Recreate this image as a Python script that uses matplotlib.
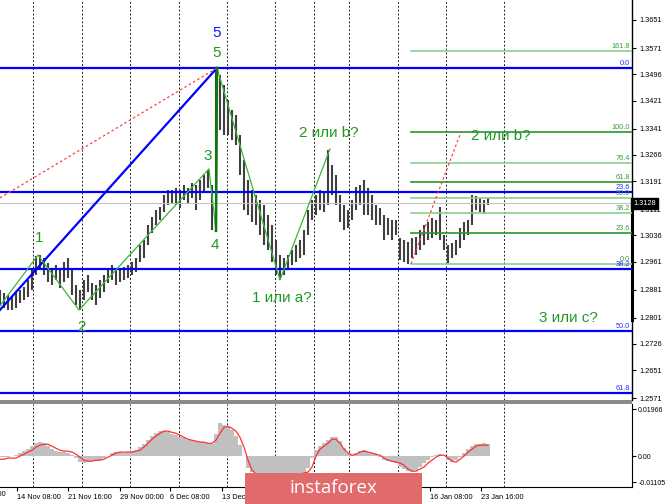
import matplotlib
matplotlib.use('Agg')
import matplotlib.pyplot as plt
import matplotlib.transforms as mtransforms
from matplotlib.patches import Rectangle
import numpy as np

plt.rcParams['font.family'] = ['Liberation Sans', 'DejaVu Sans']

# GBPUSD H4 - bar highs / lows (one bar every 4 px of the original chart)
highs = [1.2880, 1.2871, 1.2866, 1.2860, 1.2874, 1.2880, 1.2889, 1.2909, 1.2937, 1.2977,
         1.2980, 1.2971, 1.2957, 1.2943, 1.2951, 1.2937, 1.2960, 1.2971, 1.2937, 1.2894,
         1.2880, 1.2909, 1.2923, 1.2900, 1.2894, 1.2909, 1.2923, 1.2937, 1.2951, 1.2937,
         1.2943, 1.2946, 1.2951, 1.2960, 1.2971, 1.3009, 1.3023, 1.3066, 1.3088, 1.3109,
         1.3117, 1.3151, 1.3166, 1.3166, 1.3171, 1.3166, 1.3180, 1.3171, 1.3186, 1.3180,
         1.3194, 1.3208, 1.3223, 1.3180, 1.3514, 1.3494, 1.3465, 1.3423, 1.3394, 1.3380,
         1.3323, 1.3251, 1.3194, 1.3166, 1.3151, 1.3137, 1.3123, 1.3094, 1.3066, 1.3023,
         1.2980, 1.2971, 1.2980, 1.2994, 1.3009, 1.3023, 1.3051, 1.3109, 1.3137, 1.3151,
         1.3166, 1.3157, 1.3280, 1.3237, 1.3208, 1.3151, 1.3123, 1.3109, 1.3137, 1.3174,
         1.3180, 1.3194, 1.3171, 1.3151, 1.3123, 1.3114, 1.3094, 1.3086, 1.3080, 1.3080,
         1.3029, 1.3023, 1.3017, 1.3029, 1.3031, 1.3051, 1.3066, 1.3074, 1.3086, 1.3080,
         1.3117, 1.3037, 1.3009, 1.3014, 1.3023, 1.3057, 1.3074, 1.3080, 1.3151, 1.3148,
         1.3143, 1.3137, 1.3143]
lows = [1.2837, 1.2828, 1.2823, 1.2823, 1.2828, 1.2843, 1.2851, 1.2860, 1.2880, 1.2923,
        1.2937, 1.2923, 1.2903, 1.2894, 1.2909, 1.2886, 1.2903, 1.2914, 1.2866, 1.2837,
        1.2823, 1.2851, 1.2874, 1.2851, 1.2837, 1.2857, 1.2874, 1.2900, 1.2909, 1.2894,
        1.2903, 1.2909, 1.2914, 1.2923, 1.2931, 1.2960, 1.2971, 1.3009, 1.3043, 1.3066,
        1.3080, 1.3103, 1.3123, 1.3128, 1.3123, 1.3114, 1.3137, 1.3128, 1.3143, 1.3109,
        1.3137, 1.3160, 1.3171, 1.3051, 1.3151, 1.3337, 1.3323, 1.3323, 1.3308, 1.3294,
        1.3208, 1.3109, 1.3094, 1.3074, 1.3066, 1.3037, 1.3009, 1.2994, 1.2960, 1.2923,
        1.2909, 1.2923, 1.2937, 1.2951, 1.2960, 1.2971, 1.2980, 1.3037, 1.3080, 1.3094,
        1.3109, 1.3103, 1.3123, 1.3151, 1.3123, 1.3074, 1.3051, 1.3057, 1.3080, 1.3109,
        1.3123, 1.3094, 1.3094, 1.3080, 1.3066, 1.3066, 1.3023, 1.3037, 1.3023, 1.3037,
        1.2966, 1.2960, 1.2954, 1.2971, 1.2980, 1.2994, 1.3009, 1.3023, 1.3029, 1.3037,
        1.3023, 1.2994, 1.2957, 1.2971, 1.2980, 1.3000, 1.3023, 1.3037, 1.3066, 1.3109,
        1.3103, 1.3097, 1.3123]

# MACD histogram and signal line
macd_hist = [-0.0004, -0.0004, -0.0004, 0.0, 0.0004, 0.0013, 0.0021, 0.0029, 0.0042, 0.0054,
             0.0059, 0.0054, 0.0042, 0.0029, 0.0021, 0.0017, 0.0017, 0.0013, 0.0004, -0.0008,
             -0.0025, -0.0029, -0.0025, -0.0021, -0.0021, -0.0017, -0.0008, 0.0, 0.0013, 0.0017,
             0.0017, 0.0013, 0.0017, 0.0021, 0.0025, 0.0038, 0.0050, 0.0067, 0.0084, 0.0096,
             0.0105, 0.0105, 0.0100, 0.0092, 0.0088, 0.0079, 0.0075, 0.0067, 0.0067, 0.0063,
             0.0059, 0.0059, 0.0054, 0.0050, 0.0092, 0.0138, 0.0130, 0.0121, 0.0109, 0.0084,
             0.0046, 0.0, -0.0050, -0.0067, -0.0075, -0.0075, -0.0075, -0.0075, -0.0075, -0.0075,
             -0.0075, -0.0075, -0.0075, -0.0075, -0.0075, -0.0075, -0.0071, -0.0050, -0.0008, 0.0025,
             0.0042, 0.0054, 0.0067, 0.0079, 0.0079, 0.0063, 0.0033, 0.0013, 0.0004, 0.0013,
             0.0021, 0.0025, 0.0017, 0.0013, 0.0008, -0.0004, -0.0017, -0.0021, -0.0025, -0.0029,
             -0.0046, -0.0054, -0.0063, -0.0067, -0.0059, -0.0046, -0.0029, -0.0017, -0.0004, 0.0004,
             0.0008, 0.0, -0.0017, -0.0025, -0.0017, -0.0004, 0.0013, 0.0029, 0.0042, 0.0050,
             0.0050, 0.0054, 0.0050]
macd_signal = [-0.0013, -0.0013, -0.0008, -0.0008, -0.0008, 0.0, 0.0008, 0.0017, 0.0025, 0.0038,
               0.0046, 0.0050, 0.0050, 0.0042, 0.0033, 0.0025, 0.0021, 0.0021, 0.0017, 0.0008,
               -0.0004, -0.0017, -0.0021, -0.0021, -0.0017, -0.0017, -0.0013, -0.0004, 0.0004, 0.0013,
               0.0017, 0.0017, 0.0017, 0.0017, 0.0021, 0.0025, 0.0038, 0.0054, 0.0071, 0.0084,
               0.0096, 0.0105, 0.0105, 0.0100, 0.0096, 0.0088, 0.0079, 0.0071, 0.0067, 0.0063,
               0.0059, 0.0059, 0.0054, 0.0054, 0.0067, 0.0096, 0.0121, 0.0125, 0.0117, 0.0105,
               0.0079, 0.0038, -0.0017, -0.0059, -0.0075, -0.0084, -0.0084, -0.0084, -0.0084, -0.0084,
               -0.0084, -0.0084, -0.0084, -0.0084, -0.0079, -0.0075, -0.0071, -0.0067, -0.0046, 0.0,
               0.0029, 0.0042, 0.0054, 0.0071, 0.0071, 0.0054, 0.0029, 0.0013, 0.0004, 0.0008,
               0.0017, 0.0021, 0.0017, 0.0013, 0.0008, 0.0004, -0.0008, -0.0017, -0.0021, -0.0025,
               -0.0029, -0.0038, -0.0054, -0.0063, -0.0063, -0.0054, -0.0046, -0.0029, -0.0017, -0.0004,
               0.0004, 0.0004, -0.0008, -0.0021, -0.0025, -0.0013, 0.0, 0.0017, 0.0029, 0.0042,
               0.0046, 0.0046, 0.0046]

last_price = 1.3128
price_ticks = [1.3651, 1.3571, 1.3496, 1.3421, 1.3341, 1.3266, 1.3191, 1.3111,
               1.3036, 1.2961, 1.2881, 1.2801, 1.2726, 1.2651, 1.2571]
macd_ticks = [0.01966, 0.0, -0.01105]
macd_tick_labels = ['0.01966', '0.00', '-0.01105']

date_pos = [4.25, 17, 30, 42.5, 55.5, 107.5, 120.25]
date_labels = ['14 Nov 08:00', '21 Nov 16:00', '29 Nov 00:00', '6 Dec 08:00',
               '13 Dec 16:00', '16 Jan 08:00', '23 Jan 16:00']
grid_pos = [8.25, 20.5, 32.5, 44.75, 56.75, 68.75, 78.5, 87.25, 99.5, 111.5, 126]

# fibonacci tools
blue_fib_start = (-63.75, 1.2012)
blue_fib_end = (54.25, 1.3514)
blue_levels = [0.0, 23.6, 38.2, 50.0, 61.8]
green_fib_lo = (102.75, 1.2955)
green_fib_hi = (115.25, 1.3331)
green_levels = [0.0, 23.6, 38.2, 50.0, 61.8, 76.4, 100.0, 161.8]
green_dark = [False, True, False, False, True, False, True, False]
red_line = ([0, 54.25], [1.3143, 1.3514])

# wave count
wave_x = [0, 9.5, 19.75, 52.25, 54, 54.25, 70, 82.5]
wave_y = [1.2835, 1.2980, 1.2823, 1.3226, 1.3049, 1.3514, 1.2909, 1.3283]
wave_labels = ['1', '2', '3', '4', '5', '1 или a?', '2 или b?', '2 или b?', '3 или c?']
wave_label_x = [9.75, 20.5, 52, 53.75, 54.25, 70.5, 82.25, 125.25, 142]
wave_label_y = [1.3029, 1.2774, 1.3263, 1.3009, 1.3557, 1.2857, 1.3328, 1.3320, 1.2800]

fig = plt.figure(figsize=(6.65, 5.04), dpi=100)
ax = fig.add_axes([0, 104 / 504, 632 / 665, 400 / 504])
ax2 = fig.add_axes([0, 17 / 504, 632 / 665, 83 / 504], sharex=ax)

x = np.arange(len(highs))
xmax = 158

# --- price panel ---
for g in grid_pos:
    ax.axvline(g, color='#202020', lw=0.7, ls=(0, (2, 2)), zorder=1)
    ax2.axvline(g, color='#202020', lw=0.7, ls=(0, (2, 2)), zorder=1)

ax.vlines(x, lows, highs, color='#404040', lw=1.5, zorder=2)
ax.axhline(last_price, color='#c4c4c4', lw=0.8, zorder=2)

trans = mtransforms.blended_transform_factory(ax.transAxes, ax.transData)
span = blue_fib_end[1] - blue_fib_start[1]
for lvl in blue_levels:
    p = blue_fib_end[1] - span * lvl / 100
    ax.axhline(p, color='#0000ff', lw=1.6, zorder=3)
    ax.text(0.997, p + 0.0003, f'{lvl:.1f}', transform=trans, ha='right', va='bottom',
            color='#3030ff', fontsize=5.3, zorder=5)
ax.plot([blue_fib_start[0], blue_fib_end[0]], [blue_fib_start[1], blue_fib_end[1]],
        color='#0000ff', lw=1.6, zorder=3)
ax.plot(red_line[0], red_line[1], color='#ff4040', lw=0.9, ls=(0, (2, 2)), zorder=3)

gspan = green_fib_hi[1] - green_fib_lo[1]
for lvl, dark in zip(green_levels, green_dark):
    p = green_fib_lo[1] + gspan * lvl / 100
    c = '#2b962b' if dark else '#8ccf8c'
    ax.plot([green_fib_lo[0], xmax], [p, p], color=c, lw=1.2, zorder=3)
    ax.text(0.997, p + 0.0003, f'{lvl:.1f}', transform=trans, ha='right', va='bottom',
            color='#3c9a3c', fontsize=5.3, zorder=5)
ax.plot([green_fib_lo[0], green_fib_hi[0]], [green_fib_lo[1], green_fib_hi[1]],
        color='#ff4040', lw=0.9, ls=(0, (2, 2)), zorder=3)

ax.plot(wave_x, wave_y, color='#3cb43c', lw=0.9, zorder=4)
ax.plot(wave_x[4:6], wave_y[4:6], color='#0a7a0a', lw=1.8, zorder=4)

for t, tx, ty in zip(wave_labels, wave_label_x, wave_label_y):
    ax.text(tx, ty, t, ha='center', va='center', color='#1f981f', fontsize=11, zorder=5)
ax.text(54.25, 1.3614, '5', ha='center', va='center', color='#1010ff', fontsize=11, zorder=5)

ax.set_xlim(0, xmax)
ax.set_ylim(1.25661, 1.37081)
ax.yaxis.tick_right()
ax.set_yticks(price_ticks)
ax.set_yticklabels([f'{p:.4f}' for p in price_ticks])
ax.tick_params(axis='y', direction='out', length=3, labelsize=5.3, pad=2, width=0.8)
ax.tick_params(axis='x', bottom=False, labelbottom=False)
for s in ['left', 'top', 'bottom']:
    ax.spines[s].set_visible(False)
ax.spines['right'].set_linewidth(1)

ax.text(1.002, last_price, f'{last_price:.4f}', transform=trans, ha='left', va='center',
        color='white', fontsize=5.3, zorder=6,
        bbox=dict(facecolor='black', edgecolor='black', pad=1.3))
ax.plot([1, 1], [last_price, 1.2795], transform=trans, color='black', lw=2.2, clip_on=False)

# --- MACD panel ---
ax2.bar(x, macd_hist, width=1.0, color='#c0c0c0', zorder=2)
ax2.plot(x, macd_signal, color='#ff3030', lw=0.9, zorder=3)
ax2.set_ylim(-0.01296, 0.0219)
ax2.yaxis.tick_right()
ax2.set_yticks(macd_ticks)
ax2.set_yticklabels(macd_tick_labels)
ax2.tick_params(axis='y', direction='out', length=3, labelsize=5.0, pad=1.5, width=0.8)
ax2.set_xticks(date_pos)
ax2.set_xticklabels(date_labels, ha='left')
ax2.tick_params(axis='x', direction='out', length=3, labelsize=5.3, pad=2, width=0.8)
for s in ['left', 'top']:
    ax2.spines[s].set_visible(False)
ax2.set_xlim(0, xmax)
trans2 = mtransforms.blended_transform_factory(ax2.transData, ax2.transAxes)
ax2.text(-8.5, -0.05, '7 Nov 00:00', transform=trans2, ha='left', va='top', fontsize=5.3)

# separator between panels
fig.patches.append(Rectangle((0, 100 / 504), 632 / 665, 4 / 504, transform=fig.transFigure,
                             facecolor='#8a8a8a', edgecolor='none'))

# logo
fig.patches.append(Rectangle((245 / 665, 0), 177 / 665, 31 / 504, transform=fig.transFigure,
                             facecolor='#e16a6a', edgecolor='none', zorder=5))
fig.text(333 / 665, 16 / 504, 'instaforex', ha='center', va='center', color='white',
         fontsize=13.5, family=['Open Sans', 'DejaVu Sans'], zorder=6)

fig.savefig('out.png', dpi=100)
